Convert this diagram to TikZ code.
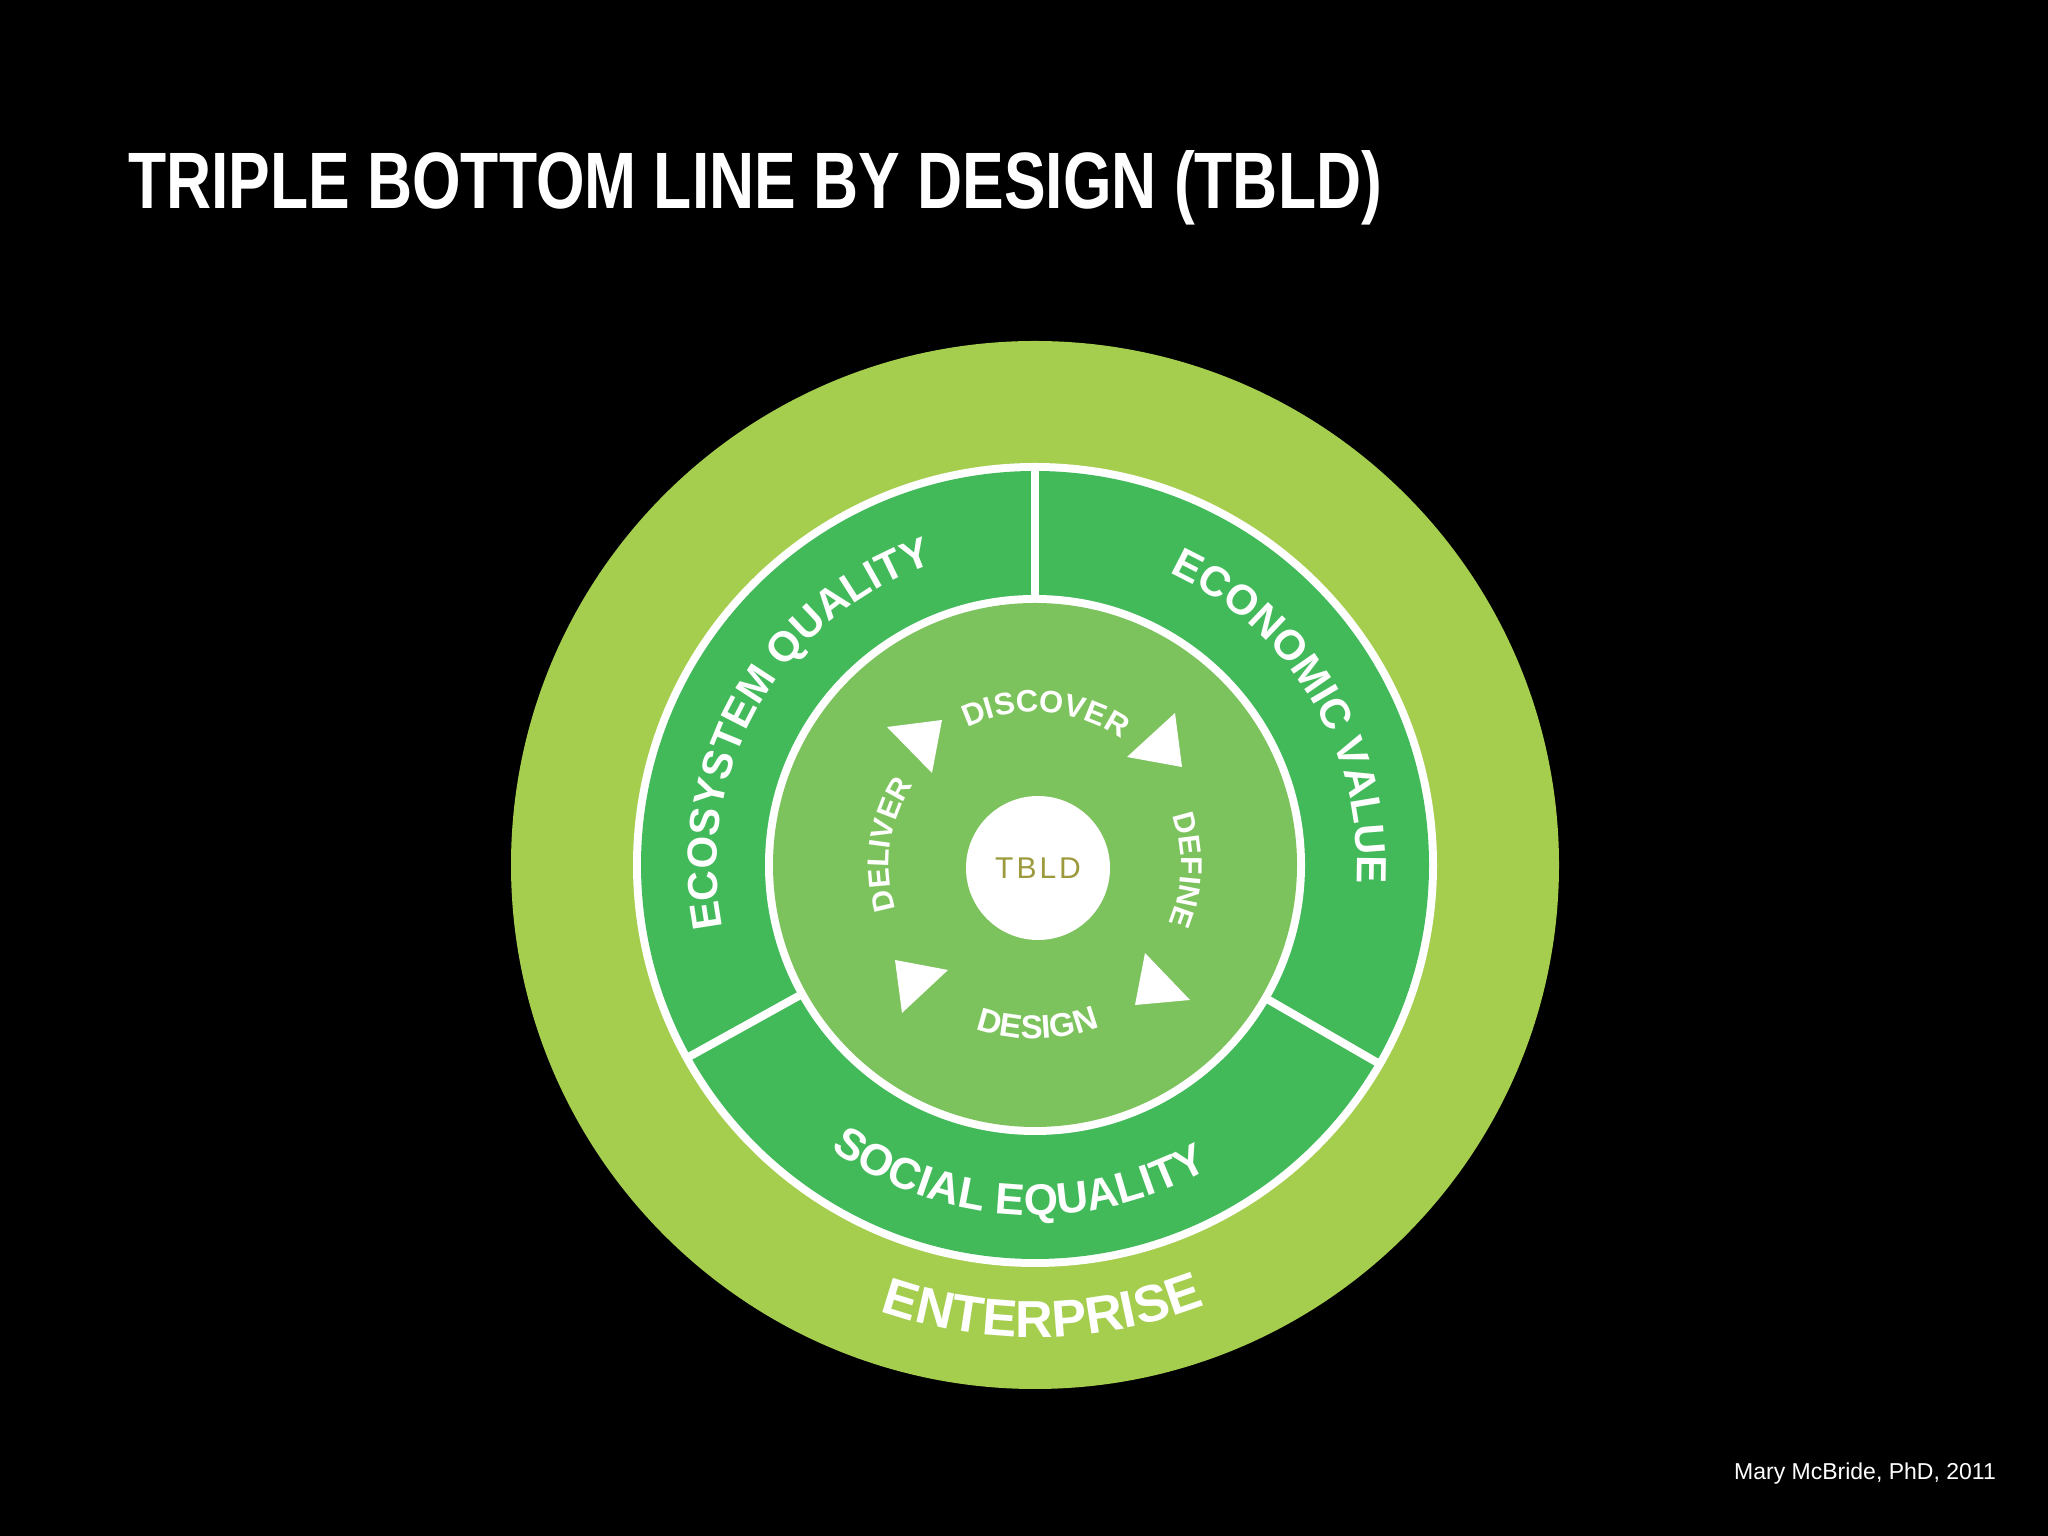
\documentclass[tikz,border=0pt]{standalone}
\usepackage{fontspec}
\setmainfont{Liberation Sans}
\newfontfamily\titlefont[FakeStretch=0.78]{Liberation Sans}
\usetikzlibrary{decorations.text}
\definecolor{outerg}{HTML}{A5CE4F}
\definecolor{ringg}{HTML}{43BA5A}
\definecolor{innerg}{HTML}{7DC35D}
\definecolor{olive}{HTML}{9C9A3C}
\newcommand{\cwtext}[4]{% mid angle, radius, font size, text
  \path[decorate,decoration={text along path,text align=center,
    text={|\fontsize{#3}{#3}\selectfont\bfseries\color{white}|#4}}]
    (C) ++(#1+80:#2) arc[start angle=#1+80,end angle=#1-80,radius=#2];}
\newcommand{\ccwtext}[4]{%
  \path[decorate,decoration={text along path,text align=center,
    text={|\fontsize{#3}{#3}\selectfont\bfseries\color{white}|#4}}]
    (C) ++(#1-80:#2) arc[start angle=#1-80,end angle=#1+80,radius=#2];}
\begin{document}
\begin{tikzpicture}[x=1pt,y=1pt,
  tri/.style={fill=white},
  divider/.style={white,line width=8pt}]
\fill[black] (0,0) rectangle (2048,1536);
\useasboundingbox (0,0) rectangle (2048,1536);
\coordinate (C) at (1035,671);
\node[anchor=base west,inner sep=0,text=white,font=\titlefont\bfseries\fontsize{80}{80}\selectfont] (title) at (128,1327) {TRIPLE BOTTOM LINE BY DESIGN (TBLD)};
\node[anchor=base east,inner sep=0,text=white,font=\fontsize{23}{23}\selectfont] (credit) at (1996,56) {Mary McBride, PhD, 2011};
\fill[outerg] (C) circle[radius=524pt];
\fill[white] (C) circle[radius=402pt];
\fill[ringg] (C) circle[radius=394pt];
\fill[white] (C) circle[radius=270pt];
\fill[innerg] (C) circle[radius=262pt];
\draw[divider] (C) ++(90:266) -- ++(90:132);
\draw[divider] (C) ++(209:266) -- ++(209:132);
\draw[divider] (C) ++(330:266) -- ++(330:132);
\node[circle,fill=white,minimum size=144pt,inner sep=0] (tbld) at (1038,668) {};
\node[text=olive,font=\fontsize{30}{30}\selectfont] at (tbld) {\addfontfeature{LetterSpace=10}TBLD};
% ring labels
\cwtext{150}{318}{42}{ECOSYSTEM QUALITY}
\cwtext{31}{322}{42}{ECONOMIC VALUE}
\ccwtext{267}{350}{44}{SOCIAL EQUALITY}
\ccwtext{271}{472}{52}{ENTERPRISE}
% inner labels
\cwtext{86}{153}{31}{DISCOVER}
\cwtext{-2}{146}{30}{DEFINE}
\ccwtext{271}{174}{33}{DESIGN}
\cwtext{172}{146}{30}{DELIVER}
% triangles
\fill[tri] (887,809) -- (942,816) -- (932,763) -- cycle;
\fill[tri] (1175,823) -- (1182,769) -- (1127,779) -- cycle;
\fill[tri] (1145,583) -- (1190,536) -- (1135,531) -- cycle;
\fill[tri] (895,576) -- (948,566) -- (902,523) -- cycle;
\end{tikzpicture}
\end{document}
